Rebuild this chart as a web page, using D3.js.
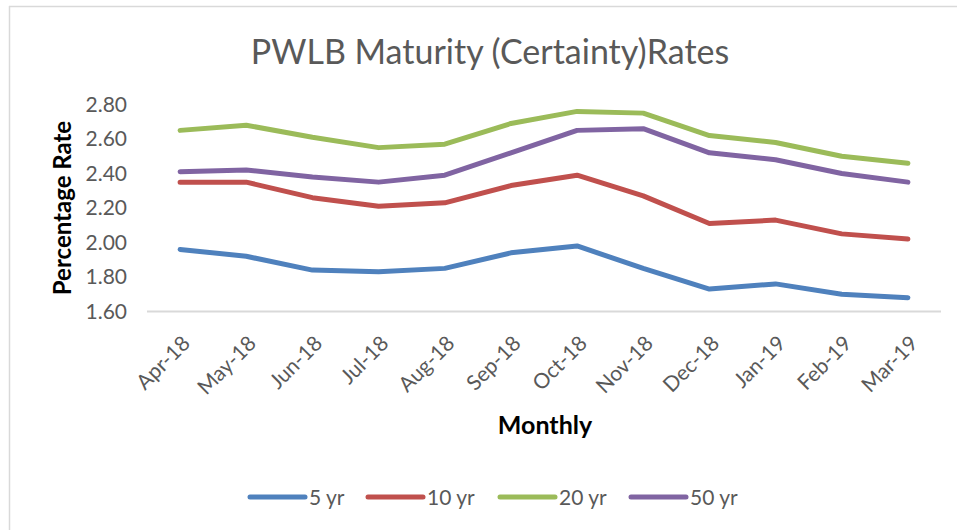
<!DOCTYPE html>
<html>
<head>
<meta charset="utf-8">
<script src="https://cdn.jsdelivr.net/npm/d3@7"></script>
<style>
  body { margin: 0; background: #fff; }
  svg { display: block; font-family: Lato, "Open Sans", sans-serif; }
</style>
</head>
<body>
<svg width="957" height="530"></svg>
<script>
var months = ["Apr-18", "May-18", "Jun-18", "Jul-18", "Aug-18", "Sep-18",
              "Oct-18", "Nov-18", "Dec-18", "Jan-19", "Feb-19", "Mar-19"];
var seriesNames = ["5 yr", "10 yr", "20 yr", "50 yr"];
var seriesColors = ["#4f81bd", "#c0504d", "#9bbb59", "#8064a2"];
var rate5 = [1.96, 1.92, 1.84, 1.83, 1.85, 1.94, 1.98, 1.85, 1.73, 1.76, 1.70, 1.68];
var rate10 = [2.35, 2.35, 2.26, 2.21, 2.23, 2.33, 2.39, 2.27, 2.11, 2.13, 2.05, 2.02];
var rate20 = [2.65, 2.68, 2.61, 2.55, 2.57, 2.69, 2.76, 2.75, 2.62, 2.58, 2.50, 2.46];
var rate50 = [2.41, 2.42, 2.38, 2.35, 2.39, 2.52, 2.65, 2.66, 2.52, 2.48, 2.40, 2.35];
var yTicks = [1.60, 1.80, 2.00, 2.20, 2.40, 2.60, 2.80];

var allSeries = [rate5, rate10, rate20, rate50];

var svg = d3.select("svg");

// chart frame (only top and left edges visible)
svg.append("line").attr("x1", 9).attr("x2", 957).attr("y1", 6.5).attr("y2", 6.5)
    .style("stroke", "#d9d9d9").style("stroke-width", "1.5px");
svg.append("line").attr("x1", 9.5).attr("x2", 9.5).attr("y1", 6).attr("y2", 530)
    .style("stroke", "#d9d9d9").style("stroke-width", "1.5px");

var x = d3.scaleBand().domain(months).range([147, 941]);
var y = d3.scaleLinear().domain([1.6, 2.8]).range([311.5, 104.5]);

// title
svg.append("text")
    .text("PWLB Maturity (Certainty)Rates")
    .attr("x", 490).attr("y", 64)
    .attr("text-anchor", "middle")
    .style("font-size", "34px")
    .style("fill", "#595959");

// y axis labels
var yAxis = d3.axisLeft(y).tickValues(yTicks).tickFormat(d3.format(".2f")).tickSize(0).tickPadding(0);
var gy = svg.append("g").attr("transform", "translate(127,0)").call(yAxis);
gy.select(".domain").remove();
gy.selectAll("text")
    .style("font-size", "21px")
    .style("font-family", "Lato, 'Open Sans', sans-serif")
    .style("fill", "#595959");

// baseline
svg.append("line")
    .attr("x1", 147).attr("x2", 941)
    .attr("y1", y(1.6)).attr("y2", y(1.6))
    .style("stroke", "#d9d9d9").style("stroke-width", "2px");

// x axis labels
var xAxis = d3.axisBottom(x).tickSize(0).tickPadding(0);
var gx = svg.append("g").attr("transform", "translate(0," + y(1.6) + ")").call(xAxis);
gx.select(".domain").remove();
gx.selectAll("text")
    .style("font-size", "21px")
    .style("font-family", "Lato, 'Open Sans', sans-serif")
    .style("fill", "#595959")
    .attr("text-anchor", "end")
    .attr("dy", "0.35em")
    .attr("transform", "translate(6,28) rotate(-45)");

// axis titles
svg.append("text")
    .text("Percentage Rate")
    .attr("transform", "translate(71,208) rotate(-90)")
    .attr("text-anchor", "middle")
    .style("font-size", "24px")
    .style("font-weight", "bold")
    .style("fill", "#000");

svg.append("text")
    .text("Monthly")
    .attr("x", 545).attr("y", 434)
    .attr("text-anchor", "middle")
    .style("font-size", "25px")
    .style("font-weight", "bold")
    .style("fill", "#000");

// lines
var line = d3.line()
    .x(function(d, i) { return x(months[i]) + x.bandwidth() / 2; })
    .y(function(d) { return y(d); });

svg.selectAll(".series")
    .data(allSeries)
    .enter()
    .append("path")
    .attr("class", "series")
    .attr("d", line)
    .style("fill", "none")
    .style("stroke", function(d, i) { return seriesColors[i]; })
    .style("stroke-width", "5px")
    .style("stroke-linecap", "round")
    .style("stroke-linejoin", "round");

// legend
var legendX = [250, 368, 500, 631];
var lg = svg.selectAll(".legend")
    .data(seriesNames)
    .enter()
    .append("g")
    .attr("class", "legend")
    .attr("transform", function(d, i) { return "translate(" + legendX[i] + ",497)"; });

lg.append("line")
    .attr("x1", 0).attr("x2", 55)
    .style("stroke", function(d, i) { return seriesColors[i]; })
    .style("stroke-width", "5px")
    .style("stroke-linecap", "round");

lg.append("text")
    .text(function(d) { return d; })
    .attr("x", 59).attr("y", 8)
    .style("font-size", "21px")
    .style("fill", "#595959");
</script>
</body>
</html>
